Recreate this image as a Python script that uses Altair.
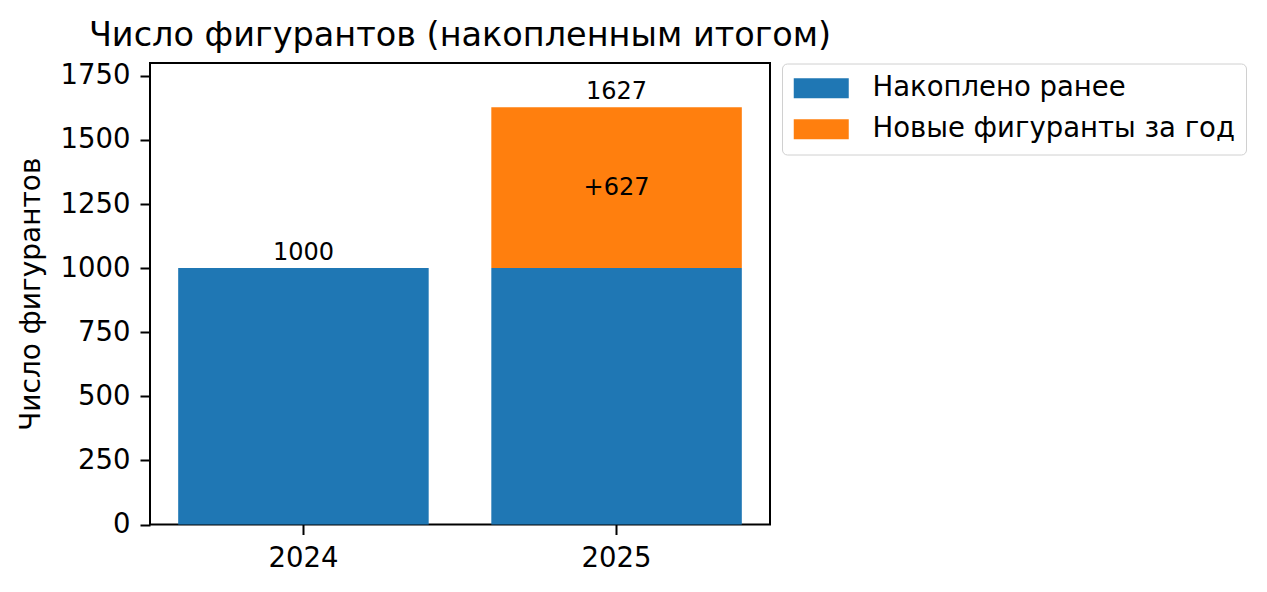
import altair as alt
import pandas as pd

years = ["2024", "2025"]
prior = [1000, 1000]
new = [0, 627]
series = ["Накоплено ранее", "Новые фигуранты за год"]
colors = ["#1f77b4", "#ff7f0e"]

rows = []
for y, p, n in zip(years, prior, new):
    rows.append({"year": y, "series": series[0], "value": p, "ord": 0})
    if n > 0:
        rows.append({"year": y, "series": series[1], "value": n, "ord": 1})
df = pd.DataFrame(rows)

tot = pd.DataFrame({
    "year": years,
    "total": [p + n for p, n in zip(prior, new)],
})
inc = pd.DataFrame({
    "year": [y for y, n in zip(years, new) if n > 0],
    "mid": [p + n / 2 for p, n in zip(prior, new) if n > 0],
    "label": ["+" + str(n) for n in new if n > 0],
})

FONT = "DejaVu Sans"

xenc = alt.X("year:N", title=None,
             scale=alt.Scale(paddingInner=0.2, paddingOuter=0.09),
             axis=alt.Axis(labelAngle=0, labelFontSize=27.5, labelPadding=10,
                           tickSize=10, tickWidth=2, tickColor="black",
                           domain=False, labelColor="black", labelFont=FONT))

bars = alt.Chart(df).mark_bar().encode(
    x=xenc,
    y=alt.Y("value:Q", stack="zero", title="Число фигурантов",
            scale=alt.Scale(domain=[0, 1800], nice=False),
            axis=alt.Axis(values=[0, 250, 500, 750, 1000, 1250, 1500, 1750],
                          format="d",
                          grid=False, domain=False, labelFontSize=27.5,
                          labelPadding=10, tickSize=10, tickWidth=2,
                          tickColor="black", labelColor="black",
                          titleFontSize=28, titleFontWeight="normal",
                          titleColor="black", titlePadding=15,
                          labelFont=FONT, titleFont=FONT)),
    color=alt.Color("series:N",
                    scale=alt.Scale(domain=series, range=colors),
                    legend=alt.Legend(
                        title=None, orient="none", legendX=632, legendY=0.5,
                        symbolType="M-1.3,-1L4.2,-1L4.2,1L-1.3,1Z",
                        symbolSize=400, symbolStrokeWidth=0,
                        symbolOpacity=1,
                        labelFontSize=27.5, labelFont=FONT, labelColor="black",
                        labelOffset=52, labelLimit=0, padding=11,
                        rowPadding=12,
                        fillColor="white", strokeColor="#d0d0d0",
                        cornerRadius=5)),
    order=alt.Order("ord:Q"),
)

tot_text = alt.Chart(tot).mark_text(
    baseline="bottom", dy=-3, fontSize=24, font=FONT, color="black"
).encode(x=alt.X("year:N"), y=alt.Y("total:Q"), text=alt.Text("total:Q"))

inc_text = alt.Chart(inc).mark_text(
    baseline="middle", fontSize=24, font=FONT, color="black"
).encode(x=alt.X("year:N"), y=alt.Y("mid:Q"), text=alt.Text("label:N"))

chart = alt.layer(bars, tot_text, inc_text).properties(
    width=620, height=461.5,
    title=alt.TitleParams("Число фигурантов (накопленным итогом)",
                          fontSize=33.5, font=FONT, fontWeight="normal",
                          color="black", anchor="middle", offset=8),
    autosize=alt.AutoSizeParams(type="none"),
    padding={"left": 142, "top": 55, "right": 480, "bottom": 50},
).configure(background="white").configure_view(stroke="black", strokeWidth=2)

chart.save("out.html", embed_options={"renderer": "svg", "actions": False})
